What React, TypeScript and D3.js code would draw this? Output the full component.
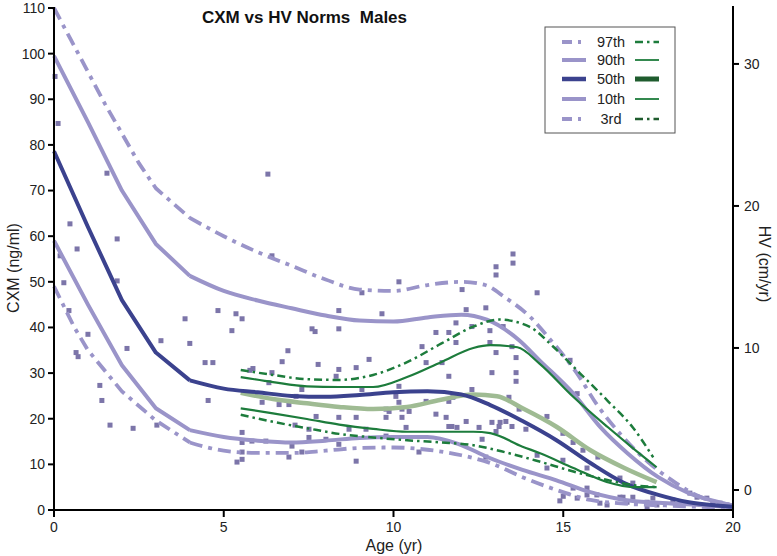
import React from 'react';
import * as d3 from 'd3';

type P = [number, number];

const xTicks = [0, 5, 10, 15, 20];
const cxmTicks = [0, 10, 20, 30, 40, 50, 60, 70, 80, 90, 100, 110];
const hvTicks = [0, 10, 20, 30];
const legendLabels = ['97th', '90th', '50th', '10th', '3rd'];

// CXM percentiles (ng/ml) by age (yr)
const cxm97: P[] = [[0,110],[0.5,103],[1,96],[1.5,89],[2,82.5],[2.5,76],[3,70.5],[4,64],[5,60],[6,56.5],[7,53.5],[8,50.5],[9,48.3],[10,48],[11,49.3],[12,50],[12.7,49.3],[13.3,46.5],[14,42.5],[14.6,37.5],[15.4,30],[16,23],[16.7,16.5],[17.5,10.5],[18.3,6],[19,3],[20,1]];
const cxm90: P[] = [[0,99.5],[1,85],[2,70],[3,58.3],[4,51.3],[5,48],[6,45.9],[7,44.2],[8,42.6],[9,41.5],[10,41.3],[11,42.2],[12,42.8],[12.75,41.7],[13.7,37.2],[14.3,32.8],[15.3,25.5],[16.1,18.1],[16.9,12.4],[17.8,7.2],[18.7,3.7],[19.7,1.5],[20,1]];
const cxm50: P[] = [[0,78.6],[1,62],[2,46],[3,34.5],[4,28.4],[5,26.6],[6,25.8],[7,25],[8,24.8],[9,25.2],[10,25.8],[11,26],[12,25.3],[12.85,23],[13.8,19.5],[14.8,15.3],[15.8,10.3],[16.8,5.9],[17.8,3.3],[18.7,1.7],[19.7,0.9],[20,0.7]];
const cxm10: P[] = [[0,59],[1,45],[2,31.7],[3,22.3],[4,17.5],[5,16],[6,15.2],[7,14.8],[8,15.2],[9,15.8],[10,16],[11,16],[11.9,14.5],[12.8,11.5],[13.8,8.8],[14.8,6.5],[15.8,3.9],[16.8,2.2],[17.8,1.6],[19,1.1],[20,0.6]];
const cxm3: P[] = [[0,49],[0.6,40],[1,35],[2,26],[3,19.6],[4,14.8],[5,13],[6,12.5],[7,12.5],[8,13],[9,13.6],[10,13.7],[11,13.2],[12,12],[12.85,10.3],[13.8,7.2],[14.8,4.4],[15.8,2.2],[16.8,1.4],[18,1],[19,0.7],[20,0.4]];

// HV percentiles (cm/yr) by age (yr)
const hv97: P[] = [[5.5,8.45],[6.45,8.1],[7.45,7.8],[8.4,7.75],[9.4,8.1],[10.4,9.0],[11.4,10.3],[12.35,11.5],[13.1,12.0],[14,11.5],[14.7,10.1],[15.5,8.2],[16.3,6.3],[17.05,4.4],[17.65,2.3]];
const hv90: P[] = [[5.5,7.95],[6.45,7.6],[7.45,7.3],[8.4,7.25],[9.4,7.25],[10.4,7.95],[11.4,9.0],[12.35,10.0],[12.85,10.2],[13.65,10.05],[14.3,8.9],[15.3,6.55],[16.3,4.45],[17.05,2.95],[17.75,1.6]];
const hv50: P[] = [[5.5,6.85],[6.45,6.4],[7.45,6.1],[8.4,5.85],[9.4,5.7],[10.4,5.85],[11.4,6.35],[12.35,6.72],[13.05,6.6],[13.8,5.75],[14.8,4.45],[15.8,2.8],[16.8,1.55],[17.75,0.55]];
const hv10: P[] = [[5.5,5.75],[6.45,5.4],[7.45,5.0],[8.4,4.6],[9.4,4.3],[10.4,4.1],[11.4,4.1],[12.35,4.1],[12.85,4.0],[13.8,3.05],[14.3,2.6],[15.3,1.55],[16.3,0.55],[17.05,0.2],[17.75,0.2]];
const hv3: P[] = [[5.5,5.3],[6.45,4.8],[7.45,4.35],[8.4,3.95],[9.4,3.7],[10.4,3.5],[11.4,3.35],[12.35,3.15],[13.3,2.65],[14.3,2.0],[15.3,1.3],[16.3,0.7],[17.05,0.35],[17.75,0.2]];

// individual CXM samples (age, ng/ml)
const samples: P[] = [
  [0.03,95.0],[0.12,84.7],[0.18,55.7],[0.47,62.7],[0.68,57.2],[0.29,49.8],[0.44,43.7],[0.65,34.5],[0.71,33.6],[1.0,38.5],
  [1.56,73.8],[1.86,59.4],[1.86,50.2],[1.35,27.3],[1.41,24.0],[1.65,18.6],[2.15,35.4],[2.33,17.9],[3.03,18.6],[3.15,37.1],
  [3.86,41.9],[4.0,36.5],[4.45,32.3],[4.54,24.0],[4.68,32.3],[4.83,43.7],[5.24,39.3],[5.36,43.0],[5.39,10.5],[6.30,73.6],
  [5.54,41.9],[6.42,55.7],[6.89,34.9],[6.72,32.5],[5.86,31.0],[5.77,30.6],[6.42,30.1],[7.78,31.9],[7.60,39.7],[7.69,39.1],
  [8.39,43.7],[8.39,39.7],[8.39,30.8],[8.31,29.3],[8.90,31.2],[9.28,33.0],[9.07,26.4],[9.66,43.0],[10.16,50.0],[9.07,47.6],
  [10.84,35.8],[10.96,32.3],[11.25,38.9],[11.63,38.9],[11.43,32.3],[11.63,29.3],[11.84,36.7],[11.84,41.0],[12.02,48.3],[12.14,43.9],
  [12.31,40.2],[12.72,44.3],[13.02,53.3],[13.02,51.5],[13.52,56.1],[13.52,54.1],[14.23,47.6],[13.23,40.2],[13.49,35.8],[13.61,33.4],
  [13.61,30.1],[13.61,28.2],[12.90,30.1],[13.02,34.5],[12.31,26.4],[10.16,27.1],[10.07,24.9],[10.16,23.6],[9.78,22.1],[9.87,21.6],
  [10.25,22.1],[10.46,21.6],[10.25,20.3],[9.78,20.3],[10.37,18.1],[10.96,23.8],[11.63,23.8],[11.25,21.0],[11.55,20.3],[11.63,18.3],
  [11.72,18.3],[12.14,19.4],[12.52,18.1],[12.61,15.5],[12.90,19.2],[13.02,17.2],[13.31,19.4],[13.11,18.3],[13.40,24.7],[13.70,22.1],
  [13.49,18.3],[13.90,17.7],[12.72,11.6],[10.75,12.7],[9.78,16.2],[9.19,17.7],[8.69,17.7],[8.90,20.3],[8.39,20.3],[8.39,14.4],
  [8.90,10.7],[8.01,15.5],[7.51,15.9],[7.51,17.7],[7.72,20.5],[7.30,26.4],[7.13,24.9],[6.92,23.1],[6.63,23.1],[6.13,23.6],
  [6.33,27.9],[7.10,18.6],[6.92,11.6],[7.01,14.0],[7.30,12.7],[6.24,15.1],[5.83,15.1],[5.54,14.8],[5.54,17.0],[5.54,12.7],
  [5.54,11.1],[12.84,39.3],[12.84,36.7],[11.75,24.7],[11.87,18.1],[13.14,19.2],[14.52,20.5],[14.23,12.0],[14.52,9.2],[14.99,16.8],
  [14.99,10.9],[15.29,14.8],[15.41,25.5],[15.20,32.8],[15.58,13.1],[15.70,9.2],[16.02,11.6],[16.67,7.0],[17.05,5.9],[16.67,2.8],
  [14.90,2.0],[15.0,3.0],[15.29,4.8],[15.41,2.6],[15.70,3.3],[15.99,3.3],[16.08,1.5],[16.29,1.1],[16.76,2.8],[16.88,1.7],
  [17.05,2.8],[17.47,1.7],[17.64,2.6],[17.76,1.1],[17.47,0.7],[18.23,2.2],[18.73,3.7],[18.94,2.8],[19.23,2.6],[19.41,1.7],
  [19.62,1.5],[19.82,1.1],[15.70,4.8]
];

const LAV = '#9a94c9';
const NAVY = '#3b428e';
const DOT = '#7c75a9';
const GREEN = '#1d7c3c';
const SAGE = '#9fbb93';
const DGREEN = '#1f5c2e';
const FONT = 'Liberation Sans, Arial, sans-serif';
const SPLIT = 4; // early ages drawn as straight segments, later ages smooth

export default function App() {
  const x = d3.scaleLinear().domain([0, 20]).range([54, 733]);
  const y = d3.scaleLinear().domain([0, 110]).range([510, 8]);
  const yr = d3.scaleLinear().domain([-1.41, 34.08]).range([510, 6]);
  const earlyL = d3.line<P>().x(d => x(d[0])).y(d => y(d[1])).curve(d3.curveLinear);
  const lateL = d3.line<P>().x(d => x(d[0])).y(d => y(d[1])).curve(d3.curveMonotoneX);
  const lineL = (s: P[]) => earlyL(s.filter(d => d[0] <= SPLIT))! + lateL(s.filter(d => d[0] >= SPLIT))!;
  const lineR = d3.line<P>().x(d => x(d[0])).y(d => yr(d[1])).curve(d3.curveMonotoneX);

  const purpleDash = '13 6 4 6';
  const greenDash = '8 4 2.5 4';

  const legendRows = [42, 60, 79, 99, 119];
  const legendLeft = [
    { stroke: LAV, w: 4, dash: '10 6 3 6' },
    { stroke: LAV, w: 4, dash: undefined },
    { stroke: NAVY, w: 4.5, dash: undefined },
    { stroke: LAV, w: 4, dash: undefined },
    { stroke: LAV, w: 4, dash: '10 6 3 6' },
  ];
  const legendRight = [
    { stroke: GREEN, w: 2.5, dash: '8 4 2.5 4' },
    { stroke: GREEN, w: 1.8, dash: undefined },
    { stroke: DGREEN, w: 5, dash: undefined },
    { stroke: GREEN, w: 1.8, dash: undefined },
    { stroke: DGREEN, w: 2.5, dash: '8 4 2.5 4' },
  ];

  return (
    <svg width={777} height={556} style={{ position: 'absolute', left: 0, top: 0, background: '#fff' }} fontFamily={FONT}>
      <rect x={0} y={0} width={777} height={556} fill="#fff" />
      {/* scatter */}
      <g fill={DOT}>
        {samples.map((d, i) => (
          <rect key={i} x={x(d[0]) - 2.5} y={y(d[1]) - 2.5} width={5} height={5} />
        ))}
      </g>
      {/* purple CXM curves */}
      <g fill="none" strokeLinejoin="round">
        <path d={lineL(cxm97)} stroke={LAV} strokeWidth={3.8} strokeDasharray={purpleDash} />
        <path d={lineL(cxm3)} stroke={LAV} strokeWidth={3.8} strokeDasharray={purpleDash} />
        <path d={lineL(cxm90)} stroke={LAV} strokeWidth={4} />
        <path d={lineL(cxm10)} stroke={LAV} strokeWidth={4} />
      </g>
      {/* HV curves and CXM median */}
      <g fill="none" strokeLinejoin="round">
        <path d={lineR(hv50)!} stroke={SAGE} strokeWidth={4.5} />
        <path d={lineL(cxm50)} stroke={NAVY} strokeWidth={4} />
        <path d={lineR(hv97)!} stroke={GREEN} strokeWidth={2.5} strokeDasharray={greenDash} />
        <path d={lineR(hv3)!} stroke={GREEN} strokeWidth={2.5} strokeDasharray={greenDash} />
        <path d={lineR(hv90)!} stroke={GREEN} strokeWidth={2.2} />
        <path d={lineR(hv10)!} stroke={GREEN} strokeWidth={2.2} />
      </g>

      {/* axes */}
      <g stroke="#000" strokeWidth={2}>
        <line x1={54} x2={54} y1={7} y2={511} />
        <line x1={53} x2={734} y1={510} y2={510} />
        <line x1={733} x2={733} y1={6} y2={518} />
        {cxmTicks.map(t => <line key={'l' + t} x1={48} x2={54} y1={y(t)} y2={y(t)} />)}
        {xTicks.map(t => <line key={'b' + t} x1={x(t)} x2={x(t)} y1={510} y2={517} />)}
        {hvTicks.map(t => <line key={'r' + t} x1={733} x2={739} y1={yr(t)} y2={yr(t)} />)}
      </g>
      <g fontSize={14} fill="#222">
        {cxmTicks.map(t => (
          <text key={'lt' + t} x={45} y={y(t)} dy="0.35em" textAnchor="end">{t}</text>
        ))}
        {xTicks.map(t => (
          <text key={'bt' + t} x={x(t)} y={532} textAnchor="middle">{t}</text>
        ))}
        {hvTicks.map(t => (
          <text key={'rt' + t} x={744} y={yr(t)} dy="0.35em" textAnchor="start">{t}</text>
        ))}
      </g>
      <text x={394} y={551} textAnchor="middle" fontSize={16} fill="#222">Age (yr)</text>
      <text transform="translate(19,268) rotate(-90)" textAnchor="middle" fontSize={16} fill="#222">CXM (ng/ml)</text>
      <text transform="translate(759,264) rotate(90)" textAnchor="middle" fontSize={16} fill="#222">HV (cm/yr)</text>
      <text x={202} y={23} fontSize={17} fontWeight="bold" fill="#111">{'CXM vs HV Norms\u00A0\u00A0Males'}</text>

      {/* legend */}
      <rect x={545} y={27} width={130} height={106} fill="#fff" stroke="#555" strokeWidth={1} />
      {legendLabels.map((lab, i) => (
        <g key={lab}>
          <line x1={562} x2={586} y1={legendRows[i]} y2={legendRows[i]} stroke={legendLeft[i].stroke} strokeWidth={legendLeft[i].w} strokeDasharray={legendLeft[i].dash} />
          <text x={611} y={legendRows[i]} dy="0.35em" textAnchor="middle" fontSize={14.5} fill="#222">{lab}</text>
          <line x1={635} x2={659} y1={legendRows[i]} y2={legendRows[i]} stroke={legendRight[i].stroke} strokeWidth={legendRight[i].w} strokeDasharray={legendRight[i].dash} />
        </g>
      ))}
    </svg>
  );
}
